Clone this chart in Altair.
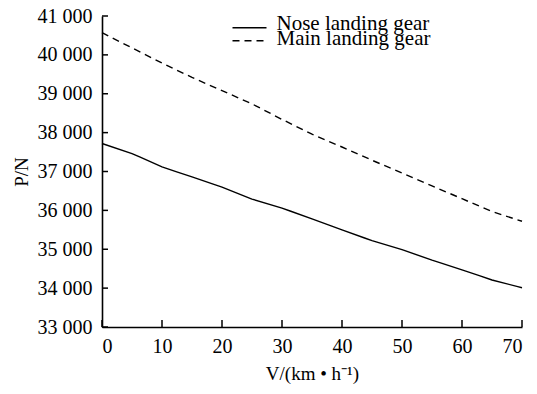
import altair as alt
import pandas as pd

speed = [0, 5, 10, 15, 20, 25, 30, 35, 40, 45, 50, 55, 60, 65, 70]
nose_gear = [37720, 37460, 37120, 36860, 36600, 36290, 36060, 35780, 35500,
             35220, 34990, 34720, 34470, 34210, 34010]
main_gear = [40570, 40180, 39790, 39420, 39080, 38740, 38340, 37960, 37630,
             37290, 36960, 36630, 36300, 35970, 35720]
series_names = ["Nose landing gear", "Main landing gear"]
y_ticks = [33000, 34000, 35000, 36000, 37000, 38000, 39000, 40000, 41000]
x_ticks = [0, 10, 20, 30, 40, 50, 60, 70]

W, H = 420, 311
FONT = "Liberation Serif"

df_nose = pd.DataFrame({"V": speed, "P": nose_gear, "series": series_names[0]})
df_main = pd.DataFrame({"V": speed, "P": main_gear, "series": series_names[1]})

x_scale = alt.Scale(domain=[0, 70], nice=False)
y_scale = alt.Scale(domain=[33000, 41000], nice=False, zero=False)
x_axis = alt.Axis(values=x_ticks, tickSize=0, labelPadding=9,
                  title="V/(km • h⁻¹)", titlePadding=8)
y_axis = alt.Axis(values=y_ticks, tickSize=0, labelPadding=10,
                  labelExpr="replace(format(datum.value, ','), ',', ' ')",
                  title="P/N", titlePadding=6)


def legend_at(y, path):
    return alt.Legend(title=None, orient="none", legendX=137, legendY=y,
                      symbolType=path, symbolSize=289,
                      symbolStrokeColor="black", symbolStrokeWidth=1.4,
                      labelFont=FONT, labelFontSize=21, labelColor="black",
                      labelOffset=16.5)


def line_layer(data, name, dash, ly, path):
    return alt.Chart(data).mark_line(color="black", strokeWidth=1.4).encode(
        x=alt.X("V:Q", scale=x_scale, axis=x_axis),
        y=alt.Y("P:Q", scale=y_scale, axis=y_axis),
        strokeDash=alt.StrokeDash(
            "series:N",
            scale=alt.Scale(domain=[name], range=[dash]),
            legend=legend_at(ly, path),
        ),
    )


nose_line = line_layer(df_nose, series_names[0], [40, 0], -3, "M-2,0.5L2,0.5")
main_line = line_layer(df_main, series_names[1], [7, 5], 12, "M-2,0.27L2,0.27")

yt = alt.Chart(pd.DataFrame({"P": y_ticks})).mark_rule(color="black", strokeWidth=1.5).encode(
    y=alt.Y("P:Q", scale=y_scale, axis=y_axis),
    x=alt.value(0), x2=alt.value(6),
)
xt = alt.Chart(pd.DataFrame({"V": x_ticks})).mark_rule(color="black", strokeWidth=1.5).encode(
    x=alt.X("V:Q", scale=x_scale, axis=x_axis),
    y=alt.value(H), y2=alt.value(H - 7),
)

chart = alt.layer(nose_line, main_line, yt, xt).resolve_scale(
    strokeDash="independent"
).resolve_legend(strokeDash="independent").properties(
    width=W, height=H,
    autosize=alt.AutoSizeParams(type="none"),
    padding={"left": 94, "top": 8, "right": 5, "bottom": 59},
).configure_view(stroke=None).configure_axis(
    grid=False, domainColor="black", domainWidth=1.6,
    labelFont=FONT, labelFontSize=20, labelColor="black",
    titleFont=FONT, titleFontSize=19, titleColor="black", titleFontWeight="normal",
)

chart.save("out.html", embed_options={"renderer": "svg", "actions": False})
